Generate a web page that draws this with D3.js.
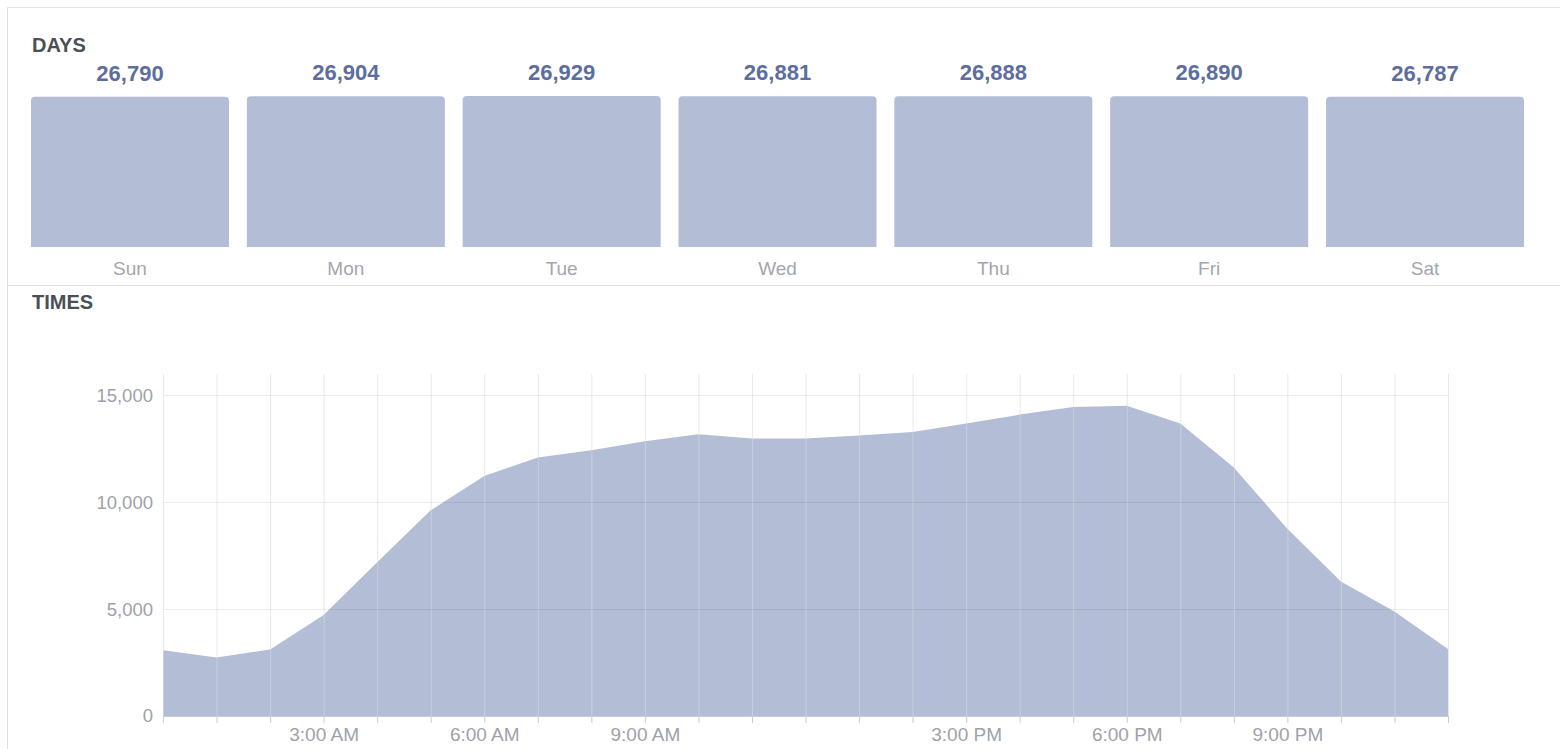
<!DOCTYPE html>
<html>
<head>
<meta charset="utf-8">
<script src="https://cdn.jsdelivr.net/npm/d3@7"></script>
<style>
  body { margin: 0; background: #fff; }
  svg { display: block; font-family: "Helvetica Neue", Helvetica, "Liberation Sans", Arial, sans-serif; }
</style>
</head>
<body>
<div id="chart"></div>
<script>
// data
var days = ["Sun", "Mon", "Tue", "Wed", "Thu", "Fri", "Sat"];
var dayValues = [26790, 26904, 26929, 26881, 26888, 26890, 26787];

var hours = [0, 1, 2, 3, 4, 5, 6, 7, 8, 9, 10, 11, 12, 13, 14, 15, 16, 17, 18, 19, 20, 21, 22, 23, 24];
var hourValues = [3080, 2740, 3110, 4720, 7190, 9620, 11230, 12090, 12430, 12850, 13180, 12980, 12980,
    13120, 13290, 13680, 14100, 14460, 14510, 13680, 11620, 8760, 6290, 4890, 3130];

var labelHours = [3, 6, 9, 15, 18, 21];
var labelText = ["3:00 AM", "6:00 AM", "9:00 AM", "3:00 PM", "6:00 PM", "9:00 PM"];
var yTicks = [0, 5000, 10000, 15000];

var W = 1560, H = 749;
var fill = "#b3bdd5";

var svg = d3.select("#chart").append("svg")
    .attr("width", W)
    .attr("height", H);

// panel borders
svg.append("line").attr("x1", 7.5).attr("x2", 7.5).attr("y1", 7).attr("y2", H).attr("stroke", "#dddfe2");
svg.append("line").attr("x1", 7).attr("x2", W).attr("y1", 7.5).attr("y2", 7.5).attr("stroke", "#e5e6e9");
svg.append("line").attr("x1", 7).attr("x2", W).attr("y1", 285.5).attr("y2", 285.5).attr("stroke", "#dddfe2");

// titles
svg.append("text").attr("x", 32).attr("y", 52).text("DAYS")
    .style("font-size", "20px").style("font-weight", "bold").attr("fill", "#4b4f56");
svg.append("text").attr("x", 32).attr("y", 309).text("TIMES")
    .style("font-size", "20px").style("font-weight", "bold").attr("fill", "#4b4f56");

//////////
// DAYS //
//////////
var xb = d3.scaleBand()
    .domain(days)
    .range([31, 1524])
    .paddingInner(0.0826)
    .paddingOuter(0);

var yb = d3.scaleLinear()
    .domain([0, d3.max(dayValues)])
    .range([247, 96]);

var bars = svg.append("g");
var r = 4;
bars.selectAll("path.bar")
    .data(days)
    .enter()
    .append("path")
    .attr("class", "bar")
    .attr("fill", fill)
    .attr("d", function (d, i) {
        var x0 = xb(d), x1 = x0 + xb.bandwidth(), y0 = yb(dayValues[i]), y1 = yb(0);
        return "M" + x0 + "," + y1 + "V" + (y0 + r) + "Q" + x0 + "," + y0 + " " + (x0 + r) + "," + y0 +
            "H" + (x1 - r) + "Q" + x1 + "," + y0 + " " + x1 + "," + (y0 + r) + "V" + y1 + "Z";
    });

bars.selectAll("text.val")
    .data(days)
    .enter()
    .append("text")
    .attr("class", "val")
    .attr("x", function (d) { return xb(d) + xb.bandwidth() / 2; })
    .attr("y", function (d, i) { return yb(dayValues[i]) - 16; })
    .attr("text-anchor", "middle")
    .attr("fill", "#5d6d9e")
    .style("font-size", "22px")
    .style("font-weight", "bold")
    .text(function (d, i) { return d3.format(",")(dayValues[i]); });

bars.selectAll("text.day")
    .data(days)
    .enter()
    .append("text")
    .attr("class", "day")
    .attr("x", function (d) { return xb(d) + xb.bandwidth() / 2; })
    .attr("y", 275)
    .attr("text-anchor", "middle")
    .attr("fill", "#a3a6ad")
    .style("font-size", "19px")
    .text(function (d) { return d; });

///////////
// TIMES //
///////////
var x = d3.scaleLinear().domain([0, 24]).range([163, 1448]);
var y = d3.scaleLinear().domain([0, 16000]).range([716, 374]);

var area = d3.area()
    .x(function (d, i) { return x(hours[i]); })
    .y0(y(0))
    .y1(function (d) { return y(d); });

svg.append("path")
    .datum(hourValues)
    .attr("fill", fill)
    .attr("d", area);

// vertical grid
svg.append("g").selectAll("line")
    .data(hours)
    .enter()
    .append("line")
    .attr("x1", function (d) { return x(d) + 0.5; })
    .attr("x2", function (d) { return x(d) + 0.5; })
    .attr("y1", y(16000))
    .attr("y2", y(0))
    .attr("stroke", "#d9dbe1")
    .attr("stroke-opacity", 0.6);

// horizontal grid
svg.append("g").selectAll("line")
    .data(yTicks.slice(1))
    .enter()
    .append("line")
    .attr("x1", x(0))
    .attr("x2", x(24))
    .attr("y1", function (d) { return Math.round(y(d)) + 0.5; })
    .attr("y2", function (d) { return Math.round(y(d)) + 0.5; })
    .attr("stroke", "#000")
    .attr("stroke-opacity", 0.07);

// x axis
var xAxis = svg.append("g")
    .attr("transform", "translate(0," + y(0) + ")")
    .call(d3.axisBottom(x)
        .tickValues(hours)
        .tickSize(7)
        .tickPadding(5)
        .tickFormat(function (d) {
            var k = labelHours.indexOf(d);
            return k < 0 ? "" : labelText[k];
        }));
xAxis.select(".domain").attr("stroke", "#c9ccd6");
xAxis.selectAll(".tick line").attr("stroke", "#c9ccd6");
xAxis.selectAll("text").attr("fill", "#9ea2aa").style("font-size", "19px");

// y axis
var yAxis = svg.append("g")
    .attr("transform", "translate(" + x(0) + ",0)")
    .call(d3.axisLeft(y)
        .tickValues(yTicks)
        .tickSize(0)
        .tickPadding(10)
        .tickFormat(d3.format(",")));
yAxis.select(".domain").remove();
yAxis.selectAll("text").attr("fill", "#9ea2aa").style("font-size", "18.5px");
</script>
</body>
</html>
